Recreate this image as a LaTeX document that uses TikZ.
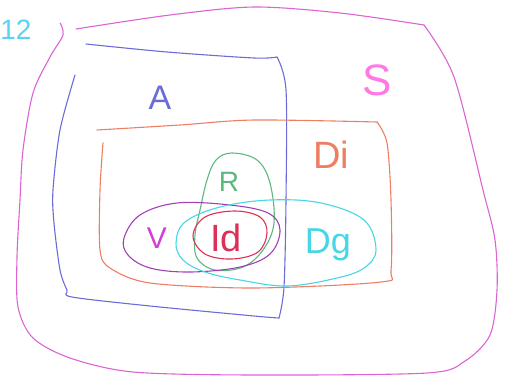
\documentclass[tikz,border=0pt]{standalone}
\usepackage{fontspec}
\setmainfont{Liberation Sans}
\definecolor{cS}{HTML}{DC64D2}
\definecolor{cSl}{HTML}{FF78E6}
\definecolor{cA}{HTML}{6C6CD8}
\definecolor{cDi}{HTML}{EE7E62}
\definecolor{cR}{HTML}{5CB87E}
\definecolor{cV}{HTML}{A040B4}
\definecolor{cVl}{HTML}{D040D8}
\definecolor{cDg}{HTML}{46D6E6}
\definecolor{cId}{HTML}{DC3056}
\definecolor{cTw}{HTML}{58D4F2}
\begin{document}
\begin{tikzpicture}[x=1pt,y=-1pt,
  pen/.style={line width=1.1pt, line cap=round, line join=round},
  lab/.style={inner sep=0pt, font=\fontsize{#1}{#1}\selectfont}]
\useasboundingbox (0,0) rectangle (508,391);
% S outer
\draw[pen,cS] plot[smooth,tension=0.5] coordinates {(76,29) (170,15) (254,7) (340,13) (424,25)};
\draw[pen,cS] plot[smooth,tension=0.5] coordinates {(424,25) (454,77) (483,190) (495,240) (497,290) (490,335) (465,361) (427,373) (254,375) (133,372) (70,358) (33,338) (18,307) (17,257) (20,200) (23,150) (33,93) (50,57) (63,35) (60,23)};
% A
\draw[pen,cA] plot[smooth,tension=0.5] coordinates {(86,44) (167,52) (254,58) (277,57)};
\draw[pen,cA] plot[smooth,tension=0.5] coordinates {(277,57) (286,90) (286,200) (284,287) (279,318)};
\draw[pen,cA] plot[smooth,tension=0.5] coordinates {(279,318) (254,316) (150,306) (72,297) (67,290) (60,270) (54,223) (53,190) (60,130) (75,75)};
% Di
\draw[pen,cDi] plot[smooth,tension=0.5] coordinates {(97,130) (180,125) (254,120) (377,122)};
\draw[pen,cDi] plot[smooth,tension=0.5] coordinates {(377,122) (387,143) (391,200) (391,270) (381,282) (254,288) (150,283) (110,268) (100,250) (100,190) (103,143)};
% R
\draw[pen,cR] plot[smooth cycle,tension=0.6] coordinates {(232,153) (257,160) (270,183) (274,223) (263,250) (243,267) (215,270) (197,258) (195,235) (200,210) (207,180) (216,160)};
% V
\draw[pen,cV] plot[smooth cycle,tension=0.6] coordinates {(124,238) (140,215) (177,203) (230,205) (268,213) (280,230) (270,254) (240,267) (190,272) (150,268) (128,255)};
% Dg
\draw[pen,cDg] plot[smooth cycle,tension=0.6] coordinates {(176,243) (185,222) (220,207) (270,200) (321,203) (364,220) (376,250) (364,268) (337,278) (287,286) (240,280) (205,272) (183,260)};
% Id
\draw[pen,cId] plot[smooth cycle,tension=0.6] coordinates {(193,236) (205,217) (235,211) (260,217) (267,233) (258,252) (232,259) (205,254)};
% labels
\node[lab=28,text=cTw] (n12) at (16,30) {12};
\node[lab=34,text=cA] (nA) at (160,98) {A};
\node[lab=44,text=cSl] (nS) at (377,80) {S};
\node[lab=38,text=cDi] (nDi) at (331,155) {Di};
\node[lab=28,text=cR] (nR) at (229,182) {R};
\node[lab=30,text=cVl] (nV) at (157,238) {V};
\node[lab=38,text=cId] (nId) at (226,238) {Id};
\node[lab=36,text=cDg] (nDg) at (328,245) {Dg};
\end{tikzpicture}
\end{document}
